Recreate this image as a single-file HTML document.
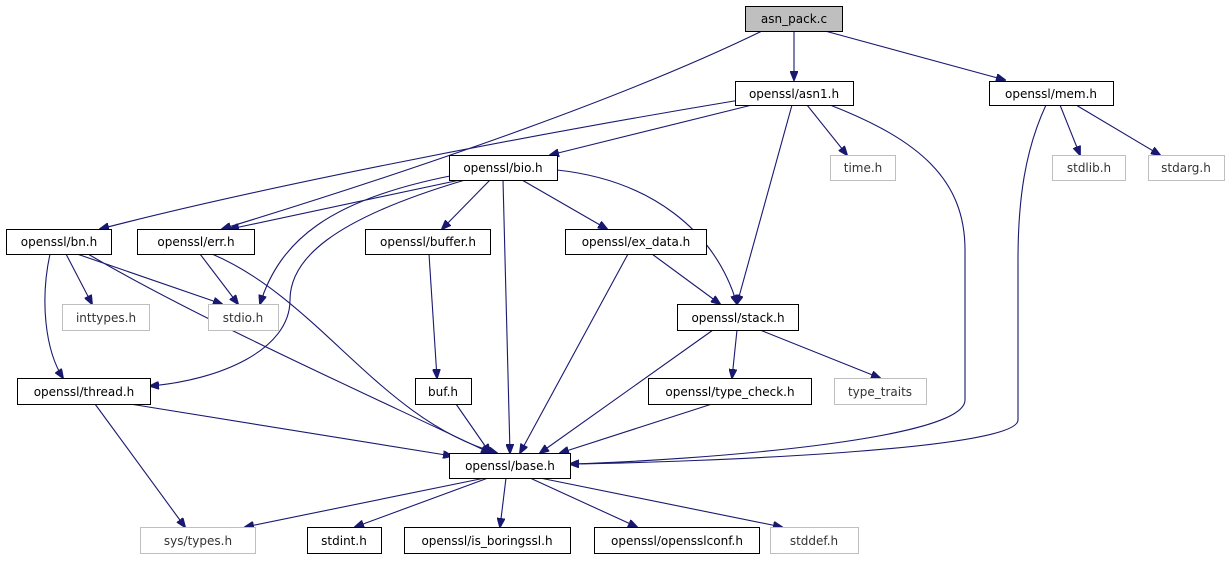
<!DOCTYPE html>
<html><head><meta charset="utf-8"><style>
body{margin:0;background:#fff;}
text{font-family:"DejaVu Sans","Liberation Sans",sans-serif;font-size:12px;text-anchor:middle;fill:#000;}
.n{fill:#fff;stroke:#000;stroke-width:1}
.g{fill:#fff;stroke:#bfbfbf;stroke-width:1}
.e{fill:none;stroke:#191970;stroke-width:1.1;marker-end:url(#a)}
</style></head><body>
<svg width="1229" height="560" xmlns="http://www.w3.org/2000/svg">
<defs><marker id="a" markerWidth="10" markerHeight="8" refX="9" refY="4" orient="auto" markerUnits="userSpaceOnUse"><path d="M0,0 L10,4 L0,8 z" fill="#191970" stroke="#191970"/></marker></defs>
<!-- edges -->
<path class="e" d="M794,31 L794,80"/>
<path class="e" d="M825,31 L1005,80"/>
<path class="e" d="M762,31 C600,110 350,190 222,229"/>
<path class="e" d="M752,105 L550,155"/>
<path class="e" d="M740,100 C500,140 250,190 100,229"/>
<path class="e" d="M807,105 L847,155"/>
<path class="e" d="M792,105 L737,304"/>
<path class="e" d="M830,105 C920,140 965,180 965,250 L965,400 C965,440 700,460 570,464"/>
<path class="e" d="M1046,105 C1025,150 1018,200 1018,260 L1018,420 C1018,450 700,462 570,464"/>
<path class="e" d="M1060,105 L1080,155"/>
<path class="e" d="M1076,105 L1160,155"/>
<path class="e" d="M460,180 L230,229"/>
<path class="e" d="M450,176 C330,200 280,240 260,304"/>
<path class="e" d="M465,180 C330,220 290,260 290,300 C290,350 220,380 150,386"/>
<path class="e" d="M490,180 L442,229"/>
<path class="e" d="M503,180 L510,453"/>
<path class="e" d="M522,180 L607,229"/>
<path class="e" d="M557,170 C650,180 715,230 737,304"/>
<path class="e" d="M66,254 L92,304"/>
<path class="e" d="M77,254 L222,304"/>
<path class="e" d="M50,254 C40,300 45,350 63,378"/>
<path class="e" d="M88,254 C200,320 380,400 490,453"/>
<path class="e" d="M200,254 L238,304"/>
<path class="e" d="M212,254 C320,300 380,420 497,453"/>
<path class="e" d="M429,254 L437,378"/>
<path class="e" d="M628,254 L520,453"/>
<path class="e" d="M652,254 L720,304"/>
<path class="e" d="M713,330 L540,453"/>
<path class="e" d="M737,330 L732,378"/>
<path class="e" d="M760,330 L880,378"/>
<path class="e" d="M130,404 L452,456"/>
<path class="e" d="M95,404 L185,527"/>
<path class="e" d="M456,404 L490,453"/>
<path class="e" d="M712,404 L560,453"/>
<path class="e" d="M485,478 L245,527"/>
<path class="e" d="M488,478 L355,527"/>
<path class="e" d="M506,478 L500,527"/>
<path class="e" d="M530,478 L637,527"/>
<path class="e" d="M540,478 L782,527"/>
<!-- nodes -->
<rect x="745.5" y="6.5" width="97" height="25" fill="#bfbfbf" stroke="#000"/><text x="794" y="23">asn_pack.c</text>
<rect class="n" x="735.5" y="81.5" width="118" height="24"/><text x="794" y="98">openssl/asn1.h</text>
<rect class="n" x="989.5" y="81.5" width="124" height="24"/><text x="1051" y="98">openssl/mem.h</text>
<rect class="n" x="449.5" y="155.5" width="108" height="25"/><text x="503" y="172">openssl/bio.h</text>
<rect class="g" x="830.5" y="155.5" width="65" height="25"/><text x="863" y="172" style="fill:#333">time.h</text>
<rect class="g" x="1052.5" y="155.5" width="73" height="25"/><text x="1089" y="172" style="fill:#333">stdlib.h</text>
<rect class="g" x="1148.5" y="155.5" width="76" height="25"/><text x="1186" y="172" style="fill:#333">stdarg.h</text>
<rect class="n" x="6.5" y="229.5" width="105" height="25"/><text x="59" y="246">openssl/bn.h</text>
<rect class="n" x="137.5" y="229.5" width="117" height="25"/><text x="196" y="246">openssl/err.h</text>
<rect class="n" x="365.5" y="229.5" width="125" height="25"/><text x="428" y="246">openssl/buffer.h</text>
<rect class="n" x="565.5" y="229.5" width="141" height="25"/><text x="636" y="246">openssl/ex_data.h</text>
<rect class="g" x="62.5" y="304.5" width="87" height="26"/><text x="106" y="322" style="fill:#333">inttypes.h</text>
<rect class="g" x="208.5" y="304.5" width="70" height="26"/><text x="243" y="322" style="fill:#333">stdio.h</text>
<rect class="n" x="677.5" y="304.5" width="121" height="26"/><text x="738" y="322">openssl/stack.h</text>
<rect class="n" x="17.5" y="378.5" width="133" height="26"/><text x="84" y="396">openssl/thread.h</text>
<rect class="n" x="415.5" y="378.5" width="56" height="26"/><text x="443" y="396">buf.h</text>
<rect class="n" x="648.5" y="378.5" width="163" height="26"/><text x="730" y="396">openssl/type_check.h</text>
<rect class="g" x="834.5" y="378.5" width="92" height="26"/><text x="880" y="396" style="fill:#333">type_traits</text>
<rect class="n" x="449.5" y="453.5" width="121" height="25"/><text x="510" y="470">openssl/base.h</text>
<rect class="g" x="140.5" y="527.5" width="115" height="26"/><text x="198" y="545" style="fill:#333">sys/types.h</text>
<rect class="n" x="307.5" y="527.5" width="74" height="26"/><text x="344" y="545">stdint.h</text>
<rect class="n" x="404.5" y="527.5" width="166" height="26"/><text x="487" y="545">openssl/is_boringssl.h</text>
<rect class="n" x="594.5" y="527.5" width="165" height="26"/><text x="677" y="545">openssl/opensslconf.h</text>
<rect class="g" x="770.5" y="527.5" width="88" height="26"/><text x="814" y="545" style="fill:#333">stddef.h</text>
</svg>
</body></html>
